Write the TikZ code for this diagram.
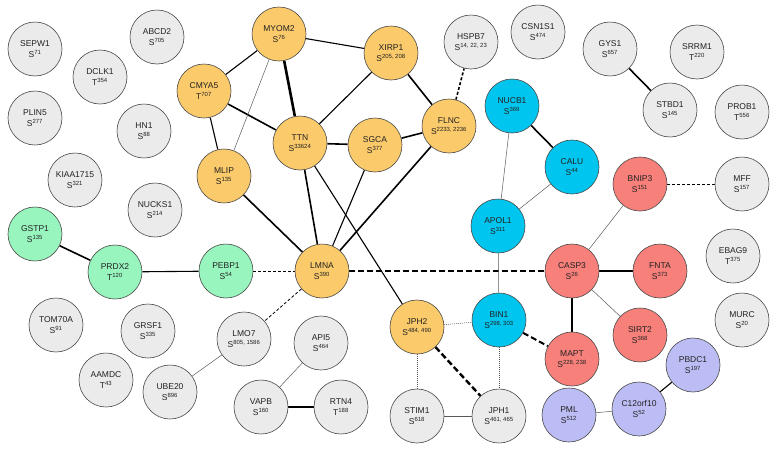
\documentclass[tikz,border=0pt]{standalone}
\usepackage{fontspec}
\setmainfont{Liberation Sans}
\usetikzlibrary{backgrounds}
\definecolor{cgray}{HTML}{EBEBEB}
\definecolor{corange}{HTML}{FBCA6A}
\definecolor{ccyan}{HTML}{00C5EE}
\definecolor{cred}{HTML}{F7807B}
\definecolor{cgreen}{HTML}{98F5BE}
\definecolor{clav}{HTML}{BDBDF5}
\definecolor{cborder}{HTML}{4A4A4A}
\definecolor{ctext}{HTML}{222222}
\tikzset{
  prot/.style={circle, minimum size=54pt, inner sep=0pt, draw=cborder, line width=0.6pt,
    align=center, text=ctext, font=\fontsize{8.5}{12}\selectfont},
  gn/.style={prot, fill=cgray},
  on/.style={prot, fill=corange},
  cn/.style={prot, fill=ccyan},
  rn/.style={prot, fill=cred},
  grn/.style={prot, fill=cgreen},
  ln/.style={prot, fill=clav},
  ethin/.style={draw=black!65, line width=0.5pt},
  emed/.style={draw=black, line width=1.1pt},
  ethick/.style={draw=black, line width=1.6pt},
  evthick/.style={draw=black, line width=2.6pt},
  edot/.style={draw=black!70, line width=0.5pt, dash pattern=on 1pt off 1pt},
  edash/.style={draw=black, line width=0.9pt, dash pattern=on 3pt off 2pt},
  edashthick/.style={draw=black, line width=2pt, dash pattern=on 6pt off 3pt},
}
\newcommand{\lbl}[2]{#1\\[-1pt]#2}
\begin{document}
\begin{tikzpicture}[x=1pt,y=-1pt]
\useasboundingbox (0,0) rectangle (779,453);
% gray isolated
\node[gn] (SEPW1) at (35,49) {\lbl{SEPW1}{S\textsuperscript{71}}};
\node[gn] (ABCD2) at (157,37) {\lbl{ABCD2}{S\textsuperscript{705}}};
\node[gn] (DCLK1) at (100,77) {\lbl{DCLK1}{T\textsuperscript{354}}};
\node[gn] (PLIN5) at (35,118) {\lbl{PLIN5}{S\textsuperscript{277}}};
\node[gn] (HN1) at (144,131) {\lbl{HN1}{S\textsuperscript{88}}};
\node[gn] (KIAA) at (75,180) {\lbl{KIAA1715}{S\textsuperscript{321}}};
\node[gn] (NUCKS1) at (155,210) {\lbl{NUCKS1}{S\textsuperscript{214}}};
\node[gn] (TOM70A) at (56,325) {\lbl{TOM70A}{S\textsuperscript{91}}};
\node[gn] (GRSF1) at (148,331) {\lbl{GRSF1}{S\textsuperscript{335}}};
\node[gn] (AAMDC) at (106,380) {\lbl{AAMDC}{T\textsuperscript{43}}};
\node[gn] (UBE20) at (170,392) {\lbl{UBE20}{S\textsuperscript{896}}};
\node[gn] (LMO7) at (244,339) {\lbl{LMO7}{S\textsuperscript{805, 1586}}};
\node[gn] (API5) at (321,343) {\lbl{API5}{S\textsuperscript{464}}};
\node[gn] (VAPB) at (261,407) {\lbl{VAPB}{S\textsuperscript{160}}};
\node[gn] (RTN4) at (341,407) {\lbl{RTN4}{T\textsuperscript{188}}};
\node[gn] (STIM1) at (417,416) {\lbl{STIM1}{S\textsuperscript{618}}};
\node[gn] (JPH1) at (499,416) {\lbl{JPH1}{S\textsuperscript{461, 465}}};
\node[gn] (HSPB7) at (471,42) {\lbl{HSPB7}{S\textsuperscript{14, 22, 23}}};
\node[gn] (CSN1S1) at (538,32) {\lbl{CSN1S1}{S\textsuperscript{474}}};
\node[gn] (GYS1) at (610,49) {\lbl{GYS1}{S\textsuperscript{657}}};
\node[gn] (SRRM1) at (697,52) {\lbl{SRRM1}{T\textsuperscript{220}}};
\node[gn] (STBD1) at (670,110) {\lbl{STBD1}{S\textsuperscript{145}}};
\node[gn] (PROB1) at (742,112) {\lbl{PROB1}{T\textsuperscript{556}}};
\node[gn] (MFF) at (742,184) {\lbl{MFF}{S\textsuperscript{157}}};
\node[gn] (EBAG9) at (733,256) {\lbl{EBAG9}{T\textsuperscript{375}}};
\node[gn] (MURC) at (742,320) {\lbl{MURC}{S\textsuperscript{20}}};
% orange
\node[on] (CMYA5) at (204,91) {\lbl{CMYA5}{T\textsuperscript{707}}};
\node[on] (MYOM2) at (279,34) {\lbl{MYOM2}{S\textsuperscript{76}}};
\node[on] (XIRP1) at (391,53) {\lbl{XIRP1}{S\textsuperscript{205, 208}}};
\node[on] (TTN) at (300,143) {\lbl{TTN}{S\textsuperscript{33624}}};
\node[on] (SGCA) at (375,145) {\lbl{SGCA}{S\textsuperscript{377}}};
\node[on] (FLNC) at (449,126) {\lbl{FLNC}{S\textsuperscript{2233, 2236}}};
\node[on] (MLIP) at (224,176) {\lbl{MLIP}{S\textsuperscript{135}}};
\node[on] (LMNA) at (322,271) {\lbl{LMNA}{S\textsuperscript{390}}};
\node[on] (JPH2) at (417,327) {\lbl{JPH2}{S\textsuperscript{484, 490}}};
% cyan
\node[cn] (NUCB1) at (512,106) {\lbl{NUCB1}{S\textsuperscript{369}}};
\node[cn] (CALU) at (572,167) {\lbl{CALU}{S\textsuperscript{44}}};
\node[cn] (APOL1) at (498,226) {\lbl{APOL1}{S\textsuperscript{311}}};
\node[cn] (BIN1) at (499,320) {\lbl{BIN1}{S\textsuperscript{298, 303}}};
% red
\node[rn] (BNIP3) at (640,184) {\lbl{BNIP3}{S\textsuperscript{151}}};
\node[rn] (CASP3) at (572,271) {\lbl{CASP3}{S\textsuperscript{26}}};
\node[rn] (FNTA) at (660,271) {\lbl{FNTA}{S\textsuperscript{373}}};
\node[rn] (SIRT2) at (640,335) {\lbl{SIRT2}{S\textsuperscript{368}}};
\node[rn] (MAPT) at (572,359) {\lbl{MAPT}{S\textsuperscript{228, 238}}};
% green
\node[grn] (GSTP1) at (35,234) {\lbl{GSTP1}{S\textsuperscript{135}}};
\node[grn] (PRDX2) at (115,272) {\lbl{PRDX2}{T\textsuperscript{120}}};
\node[grn] (PEBP1) at (226,271) {\lbl{PEBP1}{S\textsuperscript{54}}};
% lavender
\node[ln] (PBDC1) at (693,365) {\lbl{PBDC1}{S\textsuperscript{197}}};
\node[ln] (C12) at (639,409) {\lbl{C12orf10}{S\textsuperscript{52}}};
\node[ln] (PML) at (569,415) {\lbl{PML}{S\textsuperscript{512}}};
\begin{scope}[on background layer]
\draw[emed] (CMYA5) -- (MYOM2);
\draw[ethick] (CMYA5) -- (TTN);
\draw[emed] (CMYA5) -- (MLIP);
\draw[ethin] (MYOM2) -- (MLIP);
\draw[evthick] (MYOM2) -- (TTN);
\draw[emed] (MYOM2) -- (XIRP1);
\draw[emed] (XIRP1) -- (TTN);
\draw[ethick] (XIRP1) -- (FLNC);
\draw[ethick] (TTN) -- (SGCA);
\draw[ethick] (SGCA) -- (FLNC);
\draw[edash, line width=1.6pt] (FLNC) -- (HSPB7);
\draw[ethick] (MLIP) -- (LMNA);
\draw[ethick] (TTN) -- (LMNA);
\draw[emed] (SGCA) -- (LMNA);
\draw[ethick] (FLNC) -- (LMNA);
\draw[emed] (TTN) -- (JPH2);
\draw[edash] (PEBP1) -- (LMNA);
\draw[emed] (PRDX2) -- (PEBP1);
\draw[ethick] (GSTP1) -- (PRDX2);
\draw[edashthick] (LMNA) -- (CASP3);
\draw[edash, line width=0.8pt] (LMNA) -- (LMO7);
\draw[ethin] (LMO7) -- (UBE20);
\draw[ethin] (API5) -- (VAPB);
\draw[evthick] (VAPB) -- (RTN4);
\draw[edot] (JPH2) -- (BIN1);
\draw[edot] (JPH2) -- (STIM1);
\draw[edashthick, line width=2.4pt] (JPH2) -- (JPH1);
\draw[edot] (BIN1) -- (JPH1);
\draw[ethin] (STIM1) -- (JPH1);
\draw[ethin] (BIN1) -- (APOL1);
\draw[ethin] (APOL1) -- (NUCB1);
\draw[ethin] (APOL1) -- (CALU);
\draw[ethick] (NUCB1) -- (CALU);
\draw[edashthick] (BIN1) -- (MAPT);
\draw[ethin] (CASP3) -- (BNIP3);
\draw[emed] (CASP3) -- (FNTA);
\draw[ethin] (CASP3) -- (SIRT2);
\draw[ethick] (CASP3) -- (MAPT);
\draw[edash] (BNIP3) -- (MFF);
\draw[ethick] (GYS1) -- (STBD1);
\draw[ethin] (PML) -- (C12);
\draw[emed] (C12) -- (PBDC1);
\end{scope}
\end{tikzpicture}
\end{document}
